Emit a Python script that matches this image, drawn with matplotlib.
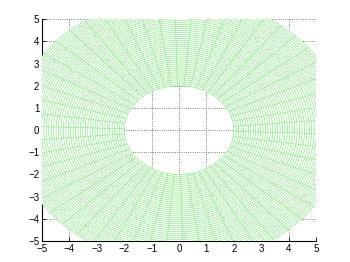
import numpy as np
import matplotlib.pyplot as plt
from matplotlib.patches import Wedge

# polar mesh parameters
r_inner = 2.0
r_outer = 6.0
n_rings = 46
n_spokes = 54
spoke_offset_deg = 4.9
ticks = [-5, -4, -3, -2, -1, 0, 1, 2, 3, 4, 5]

plt.rcParams['font.family'] = ['Liberation Sans', 'DejaVu Sans']

fig = plt.figure(figsize=(3.5, 2.62), dpi=100)
ax = fig.add_axes([0.12, 0.08, 0.783, 0.847])
ax.set_axisbelow(True)

# white annulus so the grid does not show through the mesh
ax.add_patch(Wedge((0, 0), r_outer, 0, 360, width=r_outer - r_inner,
                   facecolor="white", edgecolor="none", zorder=1))

radii = np.linspace(r_inner, r_outer, n_rings)
theta = np.linspace(0, 2 * np.pi, 721)
for r in radii:
    ax.plot(r * np.cos(theta), r * np.sin(theta), color="#98ec94",
            lw=0.55, zorder=3)

angles = np.deg2rad(spoke_offset_deg + np.arange(n_spokes) * 360.0 / n_spokes)
for a in angles:
    ax.plot([r_inner * np.cos(a), r_outer * np.cos(a)],
            [r_inner * np.sin(a), r_outer * np.sin(a)],
            color="#7ee27a", lw=0.35, zorder=3)

ax.set_xlim(-5, 5)
ax.set_ylim(-5, 5)
ax.set_xticks(ticks)
ax.set_yticks(ticks)
ax.grid(True, linestyle=":", color="#555555", linewidth=0.6)
ax.tick_params(direction="in", length=3, width=0.6, labelsize=7, pad=2)
ax.spines["top"].set_visible(False)
ax.spines["right"].set_visible(False)
ax.spines["left"].set_linewidth(0.8)
ax.spines["bottom"].set_linewidth(0.8)
ax.spines["left"].set_zorder(0.8)
ax.spines["bottom"].set_zorder(0.8)

fig.savefig("out.png", dpi=100)
